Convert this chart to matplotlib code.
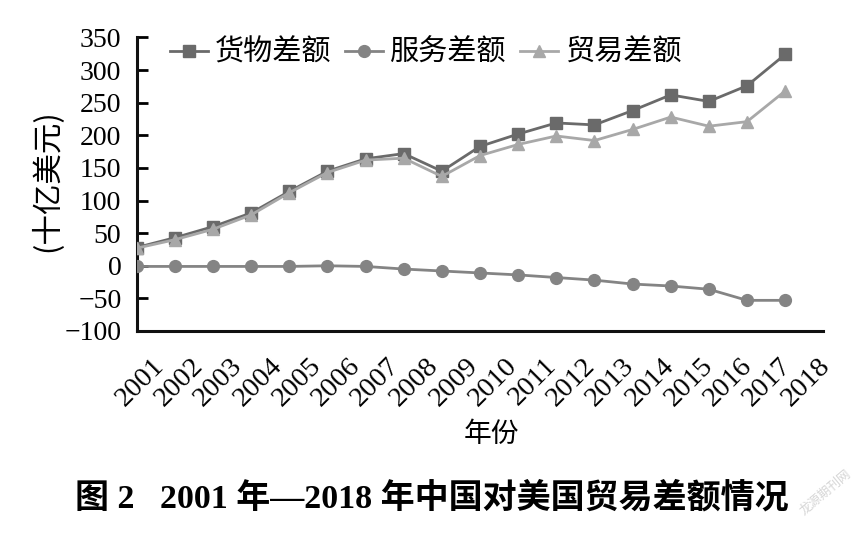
import matplotlib
matplotlib.use("Agg")
import matplotlib.pyplot as plt
import numpy as np

years = [str(y) for y in range(2001, 2019)]
goods = [28, 43, 60, 81, 114, 145, 164, 172, 145, 183, 202, 219, 216, 238, 262, 252, 276, 324]
services = [-1, -1, -1, -1, -1, 0, -1, -5, -8, -11, -14, -18, -22, -28, -31, -36, -53, -53]
trade = [27, 40, 56, 78, 112, 143, 162, 165, 137, 169, 186, 199, 192, 209, 228, 214, 221, 268]
series_names = ["货物差额", "服务差额", "贸易差额"]
yticks = [-100, -50, 0, 50, 100, 150, 200, 250, 300, 350]

SERIF = ["Liberation Serif", "Noto Sans CJK SC"]
CJK = ["Noto Sans CJK SC", "DejaVu Sans"]

fig = plt.figure(figsize=(8.6, 5.33), dpi=100)
ax = fig.add_axes([136.7 / 860, 1 - 331 / 533, (823.3 - 136.7) / 860, (331 - 37.5) / 533])

x = np.arange(len(years))
ax.plot(x, goods, color="#6a6a6a", lw=2.0, marker="s", ms=8, label=series_names[0], zorder=3)
ax.plot(x, services, color="#848484", lw=2.0, marker="o", ms=8.5, label=series_names[1], zorder=3)
ax.plot(x, trade, color="#a8a8a8", lw=2.0, marker="^", ms=8.5, label=series_names[2], zorder=4)

ax.set_xlim(0, 18)
ax.set_ylim(-100, 350)
ax.set_yticks(yticks)
ax.set_yticklabels([str(v).replace("-", "\u2212") for v in yticks], family=SERIF, fontsize=20)
ax.tick_params(axis="y", direction="in", length=8, width=2, pad=11)

label_pos = 0.39 + np.arange(len(years)) * 1.0276
ax.set_xticks(label_pos)
ax.set_xticklabels(years, family=SERIF, fontsize=20.5, rotation=45, ha="right", va="top",
                   rotation_mode="anchor")
ax.tick_params(axis="x", length=0, pad=16)

for s in ["top", "right"]:
    ax.spines[s].set_visible(False)
for s in ["left", "bottom"]:
    ax.spines[s].set_linewidth(2.2)
    ax.spines[s].set_color("#111111")

ax.set_ylabel("(十亿美元)", family=CJK, fontsize=22)
ax.yaxis.set_label_coords(-0.107, 0.514)

fig.text(491 / 860, 1 - 434 / 533, "年份", family=CJK, fontsize=20, ha="center", va="center")

leg = fig.legend(loc="center left", bbox_to_anchor=(170 / 860, 1 - 53 / 533), ncol=3,
                 frameon=False, prop={"family": CJK, "size": 21}, handlelength=1.3,
                 handletextpad=0.25, columnspacing=0.45, borderpad=0, borderaxespad=0)

fig.text(432 / 860, 1 - 498 / 533, "图 2   2001 年—2018 年中国对美国贸易差额情况",
         family=SERIF, fontsize=24.5, fontweight="bold", ha="center", va="center")

fig.text(826 / 860, 1 - 492 / 533, "龙源期刊网", family=CJK, fontsize=9, color="#d5d5d5",
         rotation=40, ha="center", va="center")

fig.savefig("out.png", dpi=100)
